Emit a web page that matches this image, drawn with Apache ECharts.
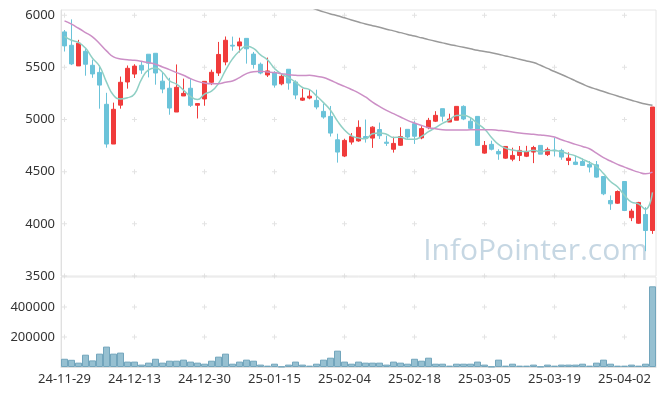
<!DOCTYPE html>
<html><head><meta charset="utf-8">
<script src="https://cdn.jsdelivr.net/npm/echarts@6/dist/echarts.min.js"></script>
<style>html,body{margin:0;padding:0;background:#fff}#c{width:665px;height:396px}</style>
</head><body><div id="c"></div>
<script>
const dates = ['24-11-29','24-12-02','24-12-03','24-12-04','24-12-05','24-12-06','24-12-09','24-12-10','24-12-11','24-12-12',
'24-12-13','24-12-16','24-12-17','24-12-18','24-12-19','24-12-20','24-12-23','24-12-24','24-12-26','24-12-27',
'24-12-30','25-01-02','25-01-03','25-01-06','25-01-07','25-01-08','25-01-09','25-01-10','25-01-13','25-01-14',
'25-01-15','25-01-16','25-01-17','25-01-20','25-01-21','25-01-22','25-01-23','25-01-24','25-01-31','25-02-03',
'25-02-04','25-02-05','25-02-06','25-02-07','25-02-10','25-02-11','25-02-12','25-02-13','25-02-14','25-02-17',
'25-02-18','25-02-19','25-02-20','25-02-21','25-02-24','25-02-25','25-02-26','25-02-27','25-02-28','25-03-04',
'25-03-05','25-03-06','25-03-07','25-03-10','25-03-11','25-03-12','25-03-13','25-03-14','25-03-17','25-03-18',
'25-03-19','25-03-20','25-03-21','25-03-24','25-03-25','25-03-26','25-03-27','25-03-28','25-03-31','25-04-01',
'25-04-02','25-04-03','25-04-04','25-04-07','25-04-08'];

const opens = [5840,5712,5514,5654,5520,5452,5146,4765,5138,5360,
5436,5520,5626,5635,5368,5300,5072,5226,5300,5137,
5197,5357,5446,5552,5712,5706,5778,5627,5530,5427,
5446,5342,5482,5360,5186,5206,5184,5078,5030,4806,
4650,4784,4795,4837,4822,4904,4783,4715,4753,4906,
4960,4824,4922,4984,5104,4976,4993,5126,4984,5030,
4678,4762,4694,4630,4620,4656,4648,4688,4752,4664,
4707,4704,4608,4592,4598,4570,4566,4454,4224,4198,
4406,4058,4006,4090,3936];
const closes = [5706,5533,5732,5530,5437,5330,4765,5098,5357,5491,
5512,5474,5540,5446,5292,5110,5309,5251,5136,5153,
5366,5453,5624,5760,5704,5744,5678,5528,5446,5466,
5330,5414,5350,5235,5206,5224,5120,5024,4870,4688,
4800,4838,4925,4824,4927,4845,4772,4771,4837,4832,
4840,4913,4992,5040,5032,5005,5126,5005,4916,4752,
4752,4715,4670,4742,4656,4704,4694,4732,4668,4714,
4701,4640,4630,4570,4560,4544,4448,4288,4192,4310,
4128,4122,4205,3936,5120];
const lows = [5652,5522,5514,5420,5400,5104,4730,4765,5104,5296,
5398,5438,5404,5334,5252,5046,5072,5226,5120,5010,
5132,5330,5418,5520,5660,5643,5536,5488,5434,5408,
5306,5328,5286,5195,5178,5194,5098,5008,4837,4587,
4640,4760,4787,4779,4728,4814,4747,4683,4748,4816,
4766,4811,4907,4976,4981,4976,4993,4994,4910,4752,
4672,4704,4614,4624,4600,4602,4640,4582,4668,4650,
4646,4614,4563,4563,4557,4493,4442,4275,4134,4192,
4122,4026,4000,3738,3904];
const highs = [5858,5960,5764,5683,5574,5517,5256,5162,5412,5518,
5530,5560,5626,5635,5448,5400,5528,5392,5387,5153,
5366,5478,5744,5796,5795,5784,5778,5648,5546,5594,
5464,5440,5482,5376,5296,5283,5286,5152,5130,4864,
4816,4870,4992,5000,4936,4971,4845,4835,4925,4906,
4985,4936,5016,5080,5104,5056,5126,5136,5019,5030,
4794,4797,4715,4742,4730,4746,4748,4748,4752,4733,
4826,4720,4685,4653,4627,4602,4602,4454,4272,4320,
4406,4144,4211,4160,5120];

const ma5 = [5798,5760,5740,5685,5588,5512,5359,5232,5197,5208,
5245,5386,5475,5493,5453,5372,5339,5282,5220,5192,
5243,5272,5346,5471,5581,5657,5702,5683,5620,5572,
5490,5437,5401,5359,5307,5286,5227,5162,5089,4985,
4900,4844,4824,4815,4863,4872,4859,4828,4830,4811,
4810,4839,4883,4923,4963,4996,5039,5042,5017,4961,
4910,4828,4761,4726,4707,4697,4693,4706,4691,4702,
4702,4691,4671,4651,4620,4589,4550,4482,4406,4356,
4273,4208,4191,4140,4302];
const ma20 = [5946,5914,5875,5834,5792,5728,5658,5600,5581,5574,
5568,5558,5546,5530,5504,5478,5450,5424,5392,5366,
5350,5344,5344,5357,5370,5402,5440,5459,5462,5456,
5450,5440,5430,5424,5421,5424,5414,5402,5376,5345,
5318,5288,5256,5216,5168,5126,5088,5056,5024,4992,
4966,4944,4922,4912,4902,4899,4899,4899,4902,4902,
4902,4902,4896,4890,4880,4870,4864,4858,4851,4845,
4832,4806,4784,4762,4742,4720,4678,4634,4602,4570,
4544,4518,4496,4480,4496];
const ma60 = [null,null,null,null,null,null,null,null,null,null,
null,null,null,null,null,null,null,null,null,null,
null,null,null,null,null,null,null,null,null,null,
null,null,null,null,null,6078,6055,6032,6012,5995,
5975,5955,5935,5915,5900,5885,5866,5850,5833,5816,
5800,5783,5766,5750,5735,5720,5706,5692,5678,5664,
5652,5640,5626,5610,5595,5578,5562,5546,5520,5490,
5460,5432,5402,5370,5340,5312,5290,5268,5246,5225,
5205,5185,5165,5148,5136];
const volumes = [55000,48000,29000,82000,44000,89000,136000,89000,96000,36000,
36000,16000,29000,55000,29000,42000,42000,49000,36000,29000,
22000,42000,69000,89000,22000,36000,49000,42000,16000,9000,
22000,3000,16000,36000,16000,9000,22000,49000,62000,109000,
36000,22000,36000,29000,29000,29000,16000,36000,29000,22000,
55000,42000,62000,22000,22000,9000,22000,22000,22000,36000,
16000,3000,49000,9000,22000,9000,9000,16000,3000,16000,
9000,16000,16000,16000,22000,9000,29000,49000,22000,9000,
9000,16000,9000,22000,538000];

const priceTicks = [3500,4000,4500,5000,5500,6000];
const volTicks = [200000,400000];
const tickIdx = [0,10,20,30,40,50,60,70,80];

const candleData = opens.map((o,i)=>[o,closes[i],lows[i],highs[i]]);
const plusMain = [], plusVol = [];
tickIdx.forEach(i=>{ priceTicks.forEach(v=>plusMain.push([i,v])); volTicks.forEach(v=>plusVol.push([i,v])); });

const UP='#f03b3b', DOWN='#6bc3d9';
const plusSym = 'path://M2,0h1v5h-1zM0,2h5v1h-5z';
const lblFont = {color:'#333', fontSize:13, fontFamily:'Noto Sans'};
const plain = v => String(v);

const chart = echarts.init(document.getElementById('c'), null, {renderer:'canvas'});
chart.setOption({
  animation:false,
  backgroundColor:'#fff',
  grid:[
    {left:61, top:10, width:595, height:266, show:true, borderColor:'#e6e6e6', borderWidth:1},
    {left:61, top:277, width:595, height:90, show:true, borderColor:'#e6e6e6', borderWidth:1}
  ],
  xAxis:[
    {type:'category', gridIndex:0, data:dates, boundaryGap:true,
     axisLine:{show:false}, axisTick:{show:false}, axisLabel:{show:false}, splitLine:{show:false}},
    {type:'category', gridIndex:1, data:dates, boundaryGap:true,
     axisLine:{show:true, lineStyle:{color:'#e0e0e0'}}, axisTick:{show:false},
     axisLabel:Object.assign({interval:9, margin:6}, lblFont), splitLine:{show:false}}
  ],
  yAxis:[
    {type:'value', gridIndex:0, min:3500, max:6050, interval:500,
     axisLine:{show:true, lineStyle:{color:'#e0e0e0'}}, axisTick:{show:false},
     axisLabel:Object.assign({margin:6, showMaxLabel:false, formatter:plain}, lblFont), splitLine:{show:false}},
    {type:'value', gridIndex:1, min:0, max:600000, interval:200000,
     axisLine:{show:true, lineStyle:{color:'#e0e0e0'}}, axisTick:{show:false},
     axisLabel:Object.assign({margin:6, showMaxLabel:false, showMinLabel:false, formatter:plain}, lblFont), splitLine:{show:false}}
  ],
  graphic:[{type:'text', right:17, top:236, z:0, silent:true,
    style:{text:'InfoPointer.com', fill:'#c6d7e3', font:'30px "Open Sans"'}}],
  series:[
    {type:'scatter', xAxisIndex:0, yAxisIndex:0, data:plusMain, symbol:plusSym, symbolSize:5,
     itemStyle:{color:'#dcdcdc'}, silent:true, z:1},
    {type:'scatter', xAxisIndex:1, yAxisIndex:1, data:plusVol, symbol:plusSym, symbolSize:5,
     itemStyle:{color:'#dcdcdc'}, silent:true, z:1},
    {type:'candlestick', xAxisIndex:0, yAxisIndex:0, data:candleData, barWidth:5, z:3,
     itemStyle:{color:UP, color0:DOWN, borderColor:UP, borderColor0:DOWN, borderWidth:1}},
    {type:'line', xAxisIndex:0, yAxisIndex:0, data:ma5, smooth:true, symbol:'none', z:4,
     lineStyle:{color:'#8fcfc4', width:1.5}},
    {type:'line', xAxisIndex:0, yAxisIndex:0, data:ma20, smooth:true, symbol:'none', z:4,
     lineStyle:{color:'#cc8fc6', width:1.5}},
    {type:'line', xAxisIndex:0, yAxisIndex:0, data:ma60, smooth:true, symbol:'none', z:4,
     lineStyle:{color:'#9a9a9a', width:1.5}},
    {type:'bar', xAxisIndex:1, yAxisIndex:1, data:volumes, barCategoryGap:'0%', z:3,
     itemStyle:{color:'#96c0d1', borderColor:'#72a5bc', borderWidth:1}}
  ]
});
</script></body></html>
